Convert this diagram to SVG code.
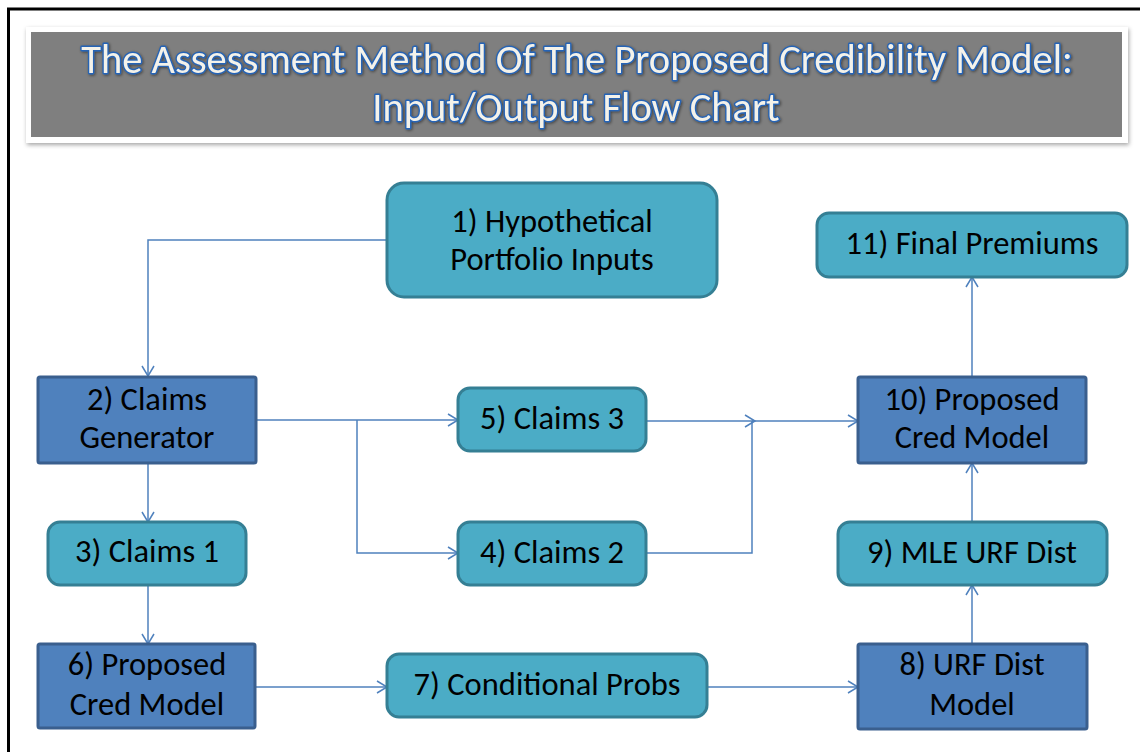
<svg xmlns="http://www.w3.org/2000/svg" width="1140" height="752" viewBox="0 0 1140 752">
<style>
  .teal { fill: #4BACC6; stroke: #357F94; stroke-width: 3; }
  .blue { fill: #4F81BD; stroke: #3A5F8E; stroke-width: 3; }
  .lbl { font-family: Carlito, Calibri, Lato, "Liberation Sans", sans-serif; font-size: 32.5px; fill: #000; text-anchor: middle; }
  .title { font-family: Carlito, Calibri, Lato, "Liberation Sans", sans-serif; font-size: 40.5px; fill: #F4F2EA; stroke: #2563B5; stroke-width: 2.8; paint-order: stroke fill; text-anchor: middle; stroke-linejoin: round; }
  .conn { fill: none; stroke: #4F81BD; stroke-width: 1.5; }
</style>
<defs>
  <marker id="arr" markerUnits="userSpaceOnUse" markerWidth="14" markerHeight="16" refX="11" refY="7" orient="auto">
    <path d="M1,1 L11,7 L1,13" fill="none" stroke="#4F81BD" stroke-width="1.5"/>
  </marker>
  <filter id="shadow" x="-5%" y="-20%" width="110%" height="140%">
    <feDropShadow dx="1" dy="2" stdDeviation="2" flood-color="#000" flood-opacity="0.35"/>
  </filter>
  <filter id="glow" x="-5%" y="-30%" width="110%" height="160%">
    <feDropShadow dx="1" dy="1" stdDeviation="1.5" flood-color="#000" flood-opacity="0.5"/>
  </filter>
</defs>
<rect width="1140" height="752" fill="#fff"/>
<rect x="8.5" y="9" width="1200" height="800" fill="none" stroke="#000" stroke-width="3"/>

<g id="title">
  <rect x="26" y="27" width="1102" height="116" fill="#fff" filter="url(#shadow)"/>
  <rect x="31" y="32" width="1091" height="105" fill="#7F7F7F"/>
  <g filter="url(#glow)">
    <text class="title" x="577" y="73">The Assessment Method Of The Proposed Credibility Model:</text>
    <text class="title" x="576" y="121">Input/Output Flow Chart</text>
  </g>
</g>

<g id="connectors">
  <path class="conn" d="M387,240 H148 V376" marker-end="url(#arr)"/>
  <path class="conn" d="M148,463 V522" marker-end="url(#arr)"/>
  <path class="conn" d="M256,420 H458" marker-end="url(#arr)"/>
  <path class="conn" d="M357,420 V553 H458" marker-end="url(#arr)"/>
  <path class="conn" d="M148,585 V644" marker-end="url(#arr)"/>
  <path class="conn" d="M255,687 H387" marker-end="url(#arr)"/>
  <path class="conn" d="M646,421 H755" marker-end="url(#arr)"/>
  <path class="conn" d="M752,421 H858" marker-end="url(#arr)"/>
  <path class="conn" d="M646,553 H752 V421"/>
  <path class="conn" d="M707,687 H858" marker-end="url(#arr)"/>
  <path class="conn" d="M972,644 V585" marker-end="url(#arr)"/>
  <path class="conn" d="M972,522 V463" marker-end="url(#arr)"/>
  <path class="conn" d="M972,377 V277" marker-end="url(#arr)"/>
</g>

<g id="node1">
  <rect class="teal" x="387" y="183" width="330" height="114" rx="17"/>
  <text class="lbl" x="552" y="232">1) Hypothetical</text>
  <text class="lbl" x="552" y="270">Portfolio Inputs</text>
</g>
<g id="node2">
  <rect class="blue" x="38" y="377" width="218" height="86" rx="2"/>
  <text class="lbl" x="147" y="410">2) Claims</text>
  <text class="lbl" x="147" y="448">Generator</text>
</g>
<g id="node3">
  <rect class="teal" x="48" y="522" width="198" height="63" rx="12"/>
  <text class="lbl" x="147" y="562">3) Claims 1</text>
</g>
<g id="node4">
  <rect class="teal" x="458" y="522" width="188" height="63" rx="12"/>
  <text class="lbl" x="552" y="563">4) Claims 2</text>
</g>
<g id="node5">
  <rect class="teal" x="458" y="388" width="188" height="63" rx="12"/>
  <text class="lbl" x="552" y="429">5) Claims 3</text>
</g>
<g id="node6">
  <rect class="blue" x="38" y="644" width="217" height="84" rx="2"/>
  <text class="lbl" x="147" y="675">6) Proposed</text>
  <text class="lbl" x="147" y="715">Cred Model</text>
</g>
<g id="node7">
  <rect class="teal" x="387" y="654" width="320" height="63" rx="12"/>
  <text class="lbl" x="547" y="695">7) Conditional Probs</text>
</g>
<g id="node8">
  <rect class="blue" x="858" y="644" width="229" height="85" rx="2"/>
  <text class="lbl" x="972" y="675">8) URF Dist</text>
  <text class="lbl" x="972" y="715">Model</text>
</g>
<g id="node9">
  <rect class="teal" x="838" y="522" width="269" height="63" rx="12"/>
  <text class="lbl" x="972" y="563">9) MLE URF Dist</text>
</g>
<g id="node10">
  <rect class="blue" x="858" y="377" width="228" height="86" rx="2"/>
  <text class="lbl" x="972" y="410">10) Proposed</text>
  <text class="lbl" x="972" y="448">Cred Model</text>
</g>
<g id="node11">
  <rect class="teal" x="817" y="213" width="310" height="64" rx="12"/>
  <text class="lbl" x="972" y="254">11) Final Premiums</text>
</g>
</svg>
